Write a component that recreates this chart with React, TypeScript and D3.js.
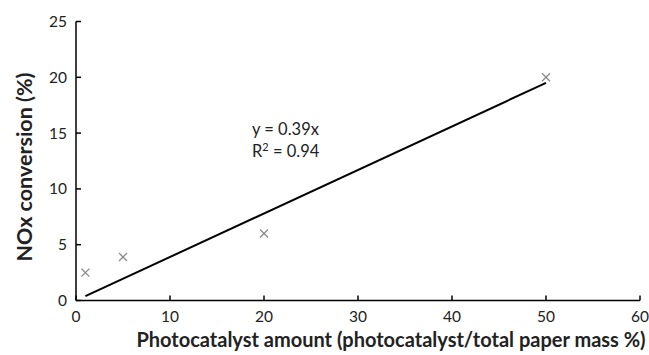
import React from "react";
import * as d3 from "d3";

const xValues = [1, 5, 20, 50];
const yValues = [2.5, 3.9, 6.0, 20.0];
const xTicks = [0, 10, 20, 30, 40, 50, 60];
const yTicks = [0, 5, 10, 15, 20, 25];
const slope = 0.39;
const trendRange = [1, 50];
const equationLabel = "y = 0.39x";
const r2Value = "0.94";
const xTitle = "Photocatalyst amount (photocatalyst/total paper mass %)";
const yTitle = "NOx conversion (%)";

const W = 649;
const H = 355;
const FONT = "Lato, 'Open Sans', sans-serif";

export default function App() {
  const x = d3.scaleLinear().domain([0, 60]).range([76, 640]);
  const y = d3.scaleLinear().domain([0, 25]).range([300.5, 21.5]);
  const line = d3
    .line<number>()
    .x((d) => x(d))
    .y((d) => y(slope * d));
  const ms = 4;
  return (
    <svg
      width={W}
      height={H}
      style={{ position: "absolute", left: 0, top: 0, background: "#fff" }}
      fontFamily={FONT}
    >
      {/* axes */}
      <line x1={x(0)} x2={x(60)} y1={y(0)} y2={y(0)} stroke="#000" strokeWidth={1.5} />
      <line x1={x(0)} x2={x(0)} y1={y(0)} y2={y(25)} stroke="#000" strokeWidth={1.5} />
      {xTicks.map((t) => (
        <g key={"x" + t}>
          <line x1={x(t)} x2={x(t)} y1={y(0)} y2={y(0) - 5} stroke="#000" strokeWidth={1.5} />
          <text x={x(t)} y={y(0) + 21.5} fontSize={15.5} textAnchor="middle" fill="#222">
            {t}
          </text>
        </g>
      ))}
      {yTicks.map((t) => (
        <g key={"y" + t}>
          <line x1={x(0)} x2={x(0) + 5} y1={y(t)} y2={y(t)} stroke="#000" strokeWidth={1.5} />
          <text x={x(0) - 9} y={y(t) + 5.5} fontSize={15.5} textAnchor="end" fill="#222">
            {t}
          </text>
        </g>
      ))}
      {/* trendline */}
      <path d={line(trendRange) || ""} stroke="#000" strokeWidth={2} fill="none" />
      {/* markers */}
      {xValues.map((v, i) => (
        <g key={"m" + i} stroke="#888" strokeWidth={1.3}>
          <line x1={x(v) - ms} x2={x(v) + ms} y1={y(yValues[i]) - ms} y2={y(yValues[i]) + ms} />
          <line x1={x(v) - ms} x2={x(v) + ms} y1={y(yValues[i]) + ms} y2={y(yValues[i]) - ms} />
        </g>
      ))}
      {/* equation */}
      <text x={252} y={135} fontSize={16.5} fill="#222">
        {equationLabel}
      </text>
      <text x={252} y={157} fontSize={16.5} fill="#222">
        R<tspan dy={-6} fontSize={11}>2</tspan>
        <tspan dy={6}>{" = " + r2Value}</tspan>
      </text>
      {/* titles */}
      <text x={391} y={347} fontSize={20} fontWeight="bold" textAnchor="middle" fill="#222">
        {xTitle}
      </text>
      <text
        transform={`translate(32,167) rotate(-90)`}
        fontSize={21.5}
        fontWeight="bold"
        textAnchor="middle"
        fill="#222"
      >
        {yTitle}
      </text>
    </svg>
  );
}
